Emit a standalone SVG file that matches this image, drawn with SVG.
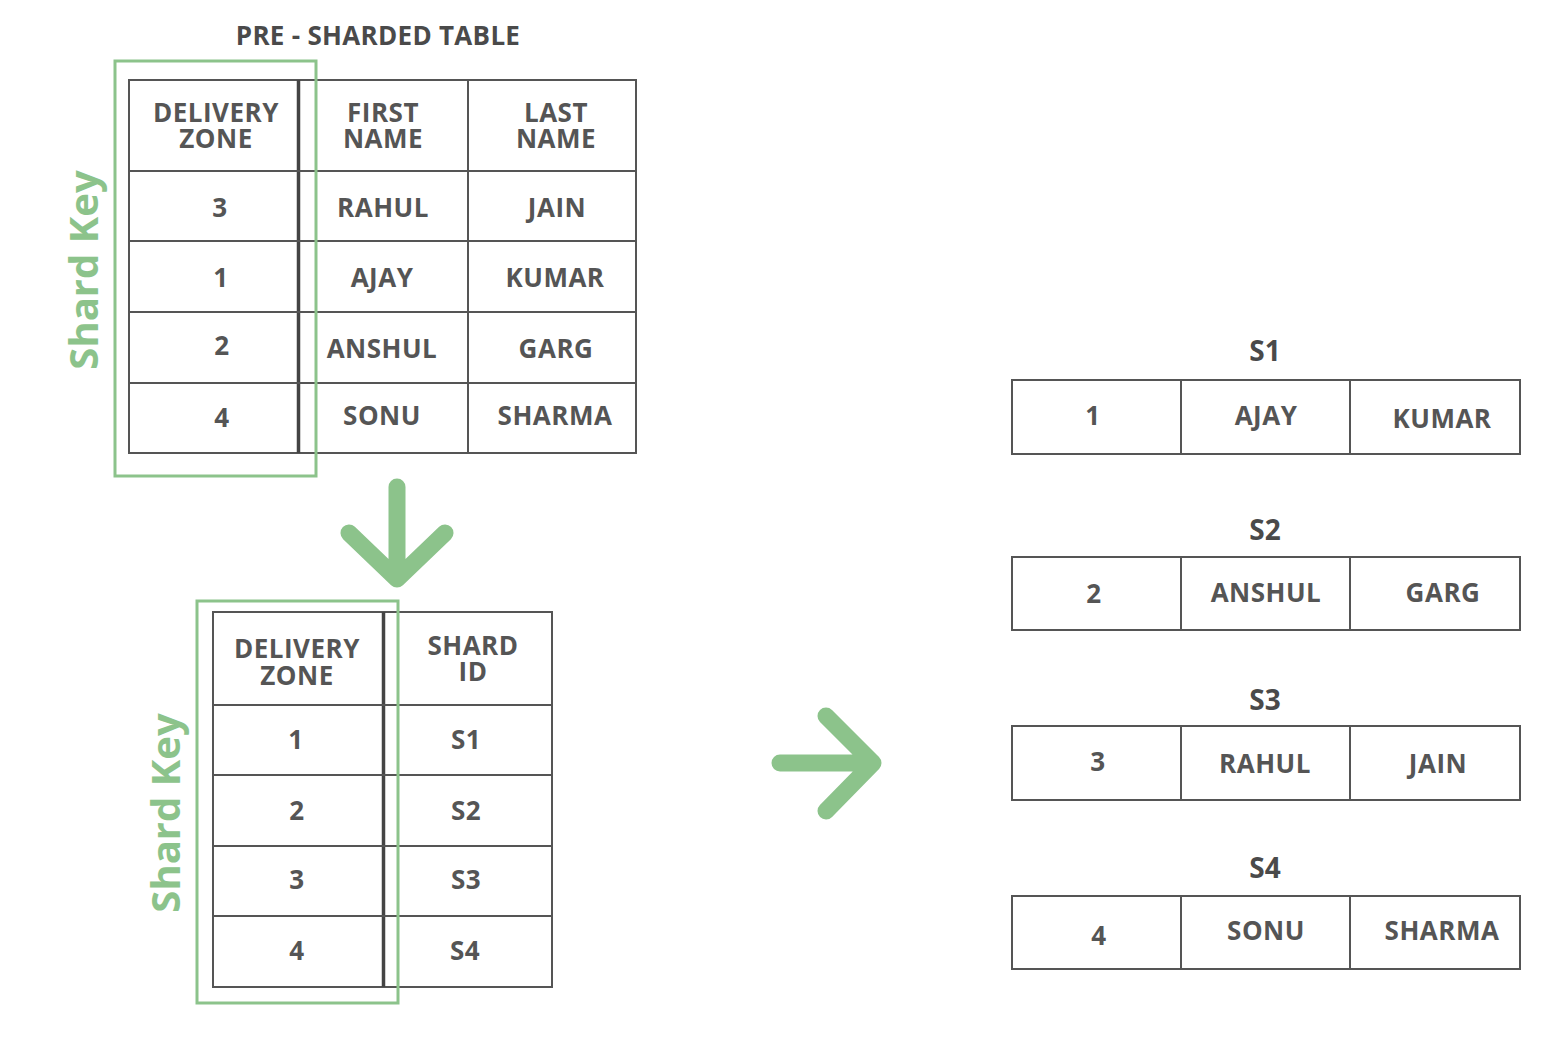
<svg xmlns="http://www.w3.org/2000/svg" width="1555" height="1047" viewBox="0 0 1555 1047">
<style>
.t{font-family:"Open Sans","Liberation Sans",sans-serif;font-weight:bold;font-size:26px;fill:#555;text-anchor:middle;letter-spacing:0.5px}
.h{font-family:"Open Sans","Liberation Sans",sans-serif;font-weight:bold;font-size:26px;fill:#4a4a4a;text-anchor:middle;letter-spacing:0.3px}
.s{font-family:"Open Sans","Liberation Sans",sans-serif;font-weight:bold;font-size:28px;fill:#4a4a4a;text-anchor:middle}
.k{font-family:"Open Sans","Liberation Sans",sans-serif;font-weight:bold;font-size:40px;fill:#8cc38b;text-anchor:middle}
.g{fill:none;stroke:#555;stroke-width:2}
.d{stroke:#444;stroke-width:3.5}
.gb{fill:none;stroke:#8cc38b;stroke-width:3}
.ar{fill:none;stroke:#8cc38b;stroke-width:17;stroke-linecap:round;stroke-linejoin:round}
</style>
<rect width="1555" height="1047" fill="#fff"/>

<g id="pre-sharded-table">
<text class="h" x="378" y="45">PRE - SHARDED TABLE</text>
<rect class="g" x="129" y="80" width="507" height="373"/>
<line class="d" x1="298.5" y1="80" x2="298.5" y2="453"/>
<line class="g" x1="468" y1="80" x2="468" y2="453"/>
<line class="g" x1="129" y1="171" x2="636" y2="171"/>
<line class="g" x1="129" y1="241" x2="636" y2="241"/>
<line class="g" x1="129" y1="312" x2="636" y2="312"/>
<line class="g" x1="129" y1="383" x2="636" y2="383"/>
<text class="t" x="216" y="122">DELIVERY</text>
<text class="t" x="216" y="148">ZONE</text>
<text class="t" x="383" y="122">FIRST</text>
<text class="t" x="383" y="148">NAME</text>
<text class="t" x="556" y="122">LAST</text>
<text class="t" x="556" y="148">NAME</text>
<text class="t" x="220" y="217">3</text>
<text class="t" x="383" y="217">RAHUL</text>
<text class="t" x="557" y="217">JAIN</text>
<text class="t" x="221" y="287">1</text>
<text class="t" x="382" y="287">AJAY</text>
<text class="t" x="555" y="287">KUMAR</text>
<text class="t" x="222" y="355">2</text>
<text class="t" x="382" y="358">ANSHUL</text>
<text class="t" x="556" y="358">GARG</text>
<text class="t" x="222" y="427">4</text>
<text class="t" x="382" y="425">SONU</text>
<text class="t" x="555" y="425">SHARMA</text>
</g>

<g id="shard-key-1">
<rect class="gb" x="115" y="61" width="201" height="415"/>
<text class="k" transform="translate(98 270) rotate(-90)">Shard Key</text>
</g>

<g id="lookup-table">
<rect class="g" x="213" y="612" width="339" height="375"/>
<line class="d" x1="383.5" y1="612" x2="383.5" y2="987"/>
<line class="g" x1="213" y1="705" x2="552" y2="705"/>
<line class="g" x1="213" y1="775" x2="552" y2="775"/>
<line class="g" x1="213" y1="846" x2="552" y2="846"/>
<line class="g" x1="213" y1="916" x2="552" y2="916"/>
<text class="t" x="297" y="658">DELIVERY</text>
<text class="t" x="297" y="685">ZONE</text>
<text class="t" x="473" y="655">SHARD</text>
<text class="t" x="473" y="681">ID</text>
<text class="t" x="296" y="749">1</text>
<text class="t" x="466" y="749">S1</text>
<text class="t" x="297" y="820">2</text>
<text class="t" x="466" y="820">S2</text>
<text class="t" x="297" y="889">3</text>
<text class="t" x="466" y="889">S3</text>
<text class="t" x="297" y="960">4</text>
<text class="t" x="465" y="960">S4</text>
</g>

<g id="shard-key-2">
<rect class="gb" x="197" y="601" width="201" height="402"/>
<text class="k" transform="translate(180 813) rotate(-90)">Shard Key</text>
</g>

<g id="shard-s1">
<text class="s" x="1265" y="361">S1</text>
<rect class="g" x="1012" y="380" width="508" height="74"/>
<line class="g" x1="1181" y1="380" x2="1181" y2="454"/>
<line class="g" x1="1350" y1="380" x2="1350" y2="454"/>
<text class="t" x="1093" y="425">1</text>
<text class="t" x="1266" y="425">AJAY</text>
<text class="t" x="1442" y="428">KUMAR</text>
</g>

<g id="shard-s2">
<text class="s" x="1265" y="540">S2</text>
<rect class="g" x="1012" y="557" width="508" height="73"/>
<line class="g" x1="1181" y1="557" x2="1181" y2="630"/>
<line class="g" x1="1350" y1="557" x2="1350" y2="630"/>
<text class="t" x="1094" y="603">2</text>
<text class="t" x="1266" y="602">ANSHUL</text>
<text class="t" x="1443" y="602">GARG</text>
</g>

<g id="shard-s3">
<text class="s" x="1265" y="710">S3</text>
<rect class="g" x="1012" y="726" width="508" height="74"/>
<line class="g" x1="1181" y1="726" x2="1181" y2="800"/>
<line class="g" x1="1350" y1="726" x2="1350" y2="800"/>
<text class="t" x="1098" y="771">3</text>
<text class="t" x="1265" y="773">RAHUL</text>
<text class="t" x="1438" y="773">JAIN</text>
</g>

<g id="shard-s4">
<text class="s" x="1265" y="878">S4</text>
<rect class="g" x="1012" y="896" width="508" height="73"/>
<line class="g" x1="1181" y1="896" x2="1181" y2="969"/>
<line class="g" x1="1350" y1="896" x2="1350" y2="969"/>
<text class="t" x="1099" y="945">4</text>
<text class="t" x="1266" y="940">SONU</text>
<text class="t" x="1442" y="940">SHARMA</text>
</g>

<g id="connectors">
<path class="ar" d="M397 487 V579 M349 533 L397 579 L445 533"/>
<path class="ar" d="M780 763 H872 M826 716 L873 763 L826 811"/>
</g>
</svg>
